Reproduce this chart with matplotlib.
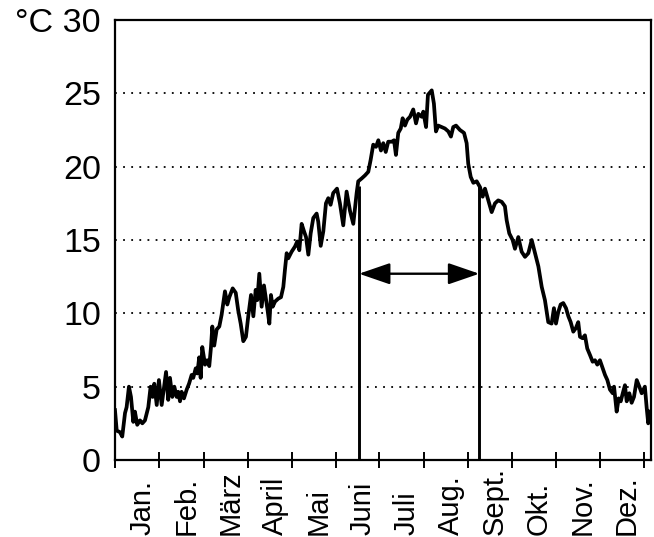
import matplotlib
matplotlib.use("Agg")
import matplotlib.pyplot as plt
import matplotlib.transforms as mtransforms
from matplotlib.patches import FancyArrowPatch

# day of year and temperature (°C)
days = [0, 1.2, 3.4, 5.0, 6.9, 8.0, 9.6, 11.0, 12.6, 13.7, 15.3, 17.2, 18.8, 20.6,
        22.9, 24.5, 25.9, 27.0, 28.7, 30.2, 32.1, 35.1, 36.6, 37.8, 39.4, 40.8,
        42.4, 43.5, 44.7, 45.8, 47.4, 49.3, 50.9, 52.7, 53.8, 55.5, 56.6, 57.9,
        58.9, 60.0, 61.9, 63.4, 64.8, 66.0, 66.9, 68.2, 69.9, 71.7, 73.3, 75.6,
        77.2, 78.6, 80.9, 83.0, 84.7, 86.4, 88.2, 90.0, 91.6, 93.5, 95.1, 96.7,
        97.8, 99.2, 100.8, 102.4, 103.6, 104.9, 106.1, 107.2, 108.4, 110.0, 112.2,
        114.1, 115.7, 116.8, 118.0, 119.1, 121.4, 123.7, 125.3, 126.7, 128.3,
        129.9, 131.3, 132.9, 134.5, 136.3, 138.6, 139.7, 141.4, 143.2, 145.0,
        146.6, 148.2, 150.0, 152.6, 154.6, 156.9, 159.2, 161.5, 163.8, 166.1,
        167.2, 169.6, 171.8, 174.1, 175.7, 177.5, 179.4, 181.0, 182.8, 184.4,
        186.1, 187.8, 190.2, 191.8, 193.1, 194.7, 196.4, 197.7, 199.3, 200.9,
        202.8, 205.0, 206.9, 208.5, 210.8, 211.9, 213.8, 215.1, 217.7, 219.2,
        220.6, 222.2, 224.5, 226.8, 229.1, 230.9, 232.5, 234.4, 237.1, 239.9,
        241.7, 242.8, 244.5, 246.3, 248.6, 250.9, 252.7, 254.3, 256.6, 258.9,
        261.2, 263.4, 265.8, 268.0, 269.2, 271.0, 273.3, 274.9, 277.2, 279.5,
        281.8, 284.1, 286.4, 288.7, 291.0, 293.3, 295.5, 297.8, 300.1, 301.7,
        303.1, 304.7, 306.3, 308.1, 310.0, 311.6, 313.2, 315.0, 316.8, 318.4,
        319.6, 321.4, 323.0, 324.6, 326.5, 328.3, 329.9, 331.5, 333.3, 335.2,
        336.8, 338.4, 340.2, 342.1, 343.0, 344.8, 346.2, 347.6, 349.0, 350.5,
        351.7, 353.5, 355.1, 356.7, 358.6, 360.4, 362.0, 364.2, 365.4, 366.5, 367.7]
temps = [3.4, 2.0, 1.9, 1.6, 3.2, 3.6, 5.0, 4.3, 2.6, 3.3, 2.4, 2.7, 2.5, 2.7,
         3.6, 5.0, 4.3, 5.2, 3.75, 5.45, 3.75, 6.0, 4.1, 5.6, 4.3, 5.0,
         4.3, 4.65, 4.0, 4.65, 4.2, 4.8, 5.2, 5.8, 5.6, 6.25, 5.9, 7.0,
         5.6, 7.7, 6.5, 6.8, 6.4, 7.7, 9.1, 7.8, 8.9, 9.1, 9.9, 11.5,
         10.6, 11.1, 11.7, 11.4, 10.2, 9.3, 8.1, 8.4, 9.8, 11.25, 9.8, 11.6,
         10.9, 12.7, 10.45, 11.9, 11.1, 10.2, 9.3, 11.25, 10.45, 10.8, 11.0,
         11.1, 11.8, 12.95, 14.1, 13.75, 14.2, 14.55, 14.9, 14.3, 16.1,
         15.6, 15.2, 14.0, 15.45, 16.5, 16.8, 16.25, 14.6, 15.6, 17.5,
         17.85, 17.4, 18.2, 18.5, 17.5, 16.0, 18.3, 17.0, 16.1, 18.2,
         19.0, 19.2, 19.4, 19.65, 20.45, 21.5, 21.35, 21.8, 21.1, 21.6,
         21.0, 21.7, 21.7, 21.8, 20.8, 22.3, 22.6, 23.3, 22.8, 23.2,
         23.4, 23.9, 22.95, 23.6, 23.4, 23.75, 22.7, 24.9, 25.2, 24.3,
         22.4, 22.8, 22.7, 22.6, 22.4, 22.05, 22.7, 22.8, 22.5, 22.3,
         21.6, 20.2, 19.3, 18.9, 19.0, 18.6, 17.95, 18.5, 17.7, 16.9,
         17.5, 17.7, 17.6, 17.3, 16.35, 15.45, 15.0, 14.4, 15.2, 14.2,
         13.85, 14.1, 15.0, 14.1, 13.2, 11.8, 10.9, 9.4, 9.3, 10.35,
         9.3, 10.1, 10.6, 10.7, 10.35, 9.8, 9.4, 8.75, 9.0, 9.4,
         8.4, 8.3, 8.5, 7.6, 7.15, 6.7, 6.8, 6.5, 6.8, 6.25,
         5.8, 5.45, 4.8, 4.55, 5.0, 3.3, 4.2, 4.0, 4.55, 5.1,
         4.0, 4.55, 3.9, 4.3, 5.45, 5.0, 4.55, 5.0, 3.6, 2.5, 3.3]

month_ticks = [0, 30.4, 60.9, 91.4, 121.9, 151.7, 181.7, 212.4, 242.4, 272.6, 303.1, 333.3, 363.8]
month_labels = ['Jan.', 'Feb.', 'März', 'April', 'Mai', 'Juni', 'Juli', 'Aug.',
                'Sept.', 'Okt.', 'Nov.', 'Dez.']
y_ticks = [0, 5, 10, 15, 20, 25, 30]
y_labels = ['0', '5', '10', '15', '20', '25', '°C 30']

# summer period marked in the chart
summer_start, summer_end = 167.7, 250.4
summer_top = 18.7
arrow_y = 12.7

plt.rcParams['font.family'] = ['Liberation Sans', 'DejaVu Sans']

fig = plt.figure(figsize=(6.54, 5.37), dpi=100)
ax = fig.add_axes([0.1758, 0.1434, 0.8196, 0.8194])

for v in y_ticks[1:-1]:
    ax.axhline(v, color='black', linestyle=(0, (1, 3.5)), linewidth=1.3, zorder=1)

ax.plot(days, temps, color='black', linewidth=2.7, solid_joinstyle='round', zorder=3)

ax.vlines([summer_start, summer_end], 0, summer_top, color='black', linewidth=2.1, zorder=2)
arr = FancyArrowPatch((summer_start, arrow_y), (summer_end, arrow_y),
                      arrowstyle='<|-|>,head_length=1.6,head_width=0.55',
                      mutation_scale=12, color='black', linewidth=1.7, shrinkA=0, shrinkB=0)
ax.add_patch(arr)

ax.set_xlim(0, 368.4)
ax.set_ylim(0, 30)

ax.set_yticks(y_ticks)
ax.set_yticklabels(y_labels, fontsize=24.5)
ax.tick_params(axis='y', length=0, pad=10)

ax.set_xticks(month_ticks)
ax.set_xticklabels([])
ax.tick_params(axis='x', direction='inout', length=11, width=1.4)

# month names sit between the ticks, running up from the bottom edge
lab_tr = mtransforms.offset_copy(ax.get_xaxis_transform(), fig=fig, x=5, y=0, units='dots')
lab_tr = mtransforms.blended_transform_factory(lab_tr, fig.transFigure)
for i, name in enumerate(month_labels):
    mid = (month_ticks[i] + month_ticks[i + 1]) / 2
    ax.text(mid, 0.004, name, transform=lab_tr, rotation=90, fontsize=21,
            ha='center', va='bottom')

for s in ax.spines.values():
    s.set_linewidth(1.6)

fig.savefig('out.png', dpi=100)
